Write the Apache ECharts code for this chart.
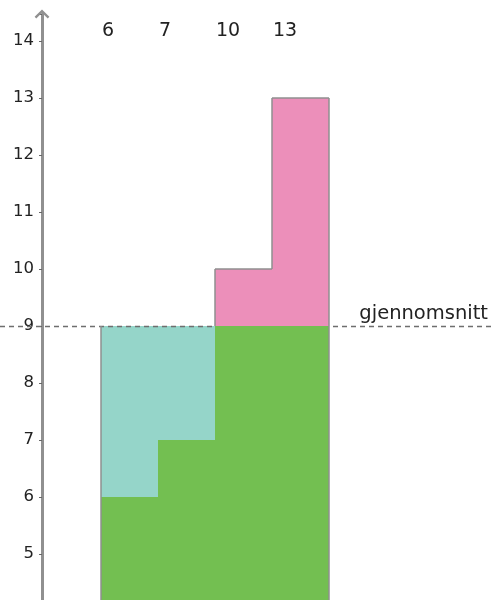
<!DOCTYPE html>
<html>
<head>
<meta charset="utf-8">
<script src="https://cdn.jsdelivr.net/npm/echarts@6/dist/echarts.min.js"></script>
<style>html,body{margin:0;padding:0;background:#fff;}#c{width:491px;height:600px;}</style>
</head>
<body>
<div id="c"></div>
<script>
// ---- data ----
const values = [6, 7, 10, 13];
const meanLabel = 'gjennomsnitt';
const yTickInterval = 1;
const mean = values.reduce((a, b) => a + b, 0) / values.length; // 9

// ---- layout constants ----
const X_MAX = 449 / 57;          // x=0 sits on the y axis (grid left edge)
const X_CANVAS_LEFT = -42 / 57;  // canvas left edge in x units
const BAR_OFFSET = 59 / 57;      // first bar start in x units
const Y_MIN = 4, Y_MAX = 14.474;
const FONT = 'DejaVu Sans';
const GREEN = '#73bf51', TEAL = '#95d5c9', PINK = '#ec8fba', OUTLINE = '#8f8f8f';

const chart = echarts.init(document.getElementById('c'), null, {renderer: 'canvas'});
const data = values.map((v, i) => [i, v]);

function rectShape(api, xa, xb, ya, yb) {
  const p1 = api.coord([xa, yb]);
  const p2 = api.coord([xb, ya]);
  const x = Math.round(p1[0]), y = Math.round(p1[1]);
  return {x: x, y: y, width: Math.round(p2[0]) - x, height: Math.round(p2[1]) - y};
}

function tealItem(params, api) {
  const i = api.value(0), v = api.value(1);
  const x0 = BAR_OFFSET + i;
  if (v >= mean) return {type: 'group', children: []};
  return {type: 'rect', shape: rectShape(api, x0, x0 + 1, v, mean), style: {fill: TEAL}};
}

function meanItem(params, api) {
  const m = api.value(1);
  const a = api.coord([X_CANVAS_LEFT, m]);
  const b = api.coord([X_MAX, m]);
  const y = Math.round(a[1]) + 0.5;
  return {type: 'group', children: [
    {type: 'line', shape: {x1: a[0], y1: y, x2: b[0], y2: y}, style: {stroke: '#6e6e6e', lineWidth: 1.5, lineDash: [5, 4]}},
    {type: 'text', style: {x: b[0] - 3, y: y - 13, text: meanLabel, fill: '#222', font: '19.5px "' + FONT + '"', textAlign: 'right', textVerticalAlign: 'middle'}}
  ]};
}

function fillItem(params, api) {
  const i = api.value(0), v = api.value(1);
  const x0 = BAR_OFFSET + i;
  const children = [];
  children.push({type: 'rect', shape: rectShape(api, x0, x0 + 1, Y_MIN, Math.min(v, mean)), style: {fill: GREEN}});
  if (v > mean) {
    children.push({type: 'rect', shape: rectShape(api, x0, x0 + 1, mean, v), style: {fill: PINK}});
  }
  const px = api.coord([x0, Y_MAX])[0];
  children.push({type: 'text', style: {x: px + 1, y: 31, text: String(v), fill: '#222', font: '19px "' + FONT + '"', textAlign: 'left', textVerticalAlign: 'middle'}});
  return {type: 'group', children};
}

function outlineItem(params, api) {
  const i = api.value(0), v = api.value(1);
  const n = values.length;
  const x0 = BAR_OFFSET + i, x1 = x0 + 1;
  const top = Math.max(v, mean);
  const lines = [];
  const seg = (a, b) => lines.push({type: 'line', shape: {x1: Math.round(a[0]), y1: Math.round(a[1]), x2: Math.round(b[0]), y2: Math.round(b[1])}, style: {stroke: OUTLINE, lineWidth: 1.5}});
  if (i === 0) {
    seg(api.coord([x0, Y_MIN]), api.coord([x0, top]));
  } else {
    const prevTop = Math.max(values[i - 1], mean);
    if (top > prevTop) seg(api.coord([x0, prevTop]), api.coord([x0, top]));
  }
  if (v > mean) seg(api.coord([x0, v]), api.coord([x1, v]));
  if (i === n - 1) {
    seg(api.coord([x1, top]), api.coord([x1, Y_MIN]));
  } else {
    const nextTop = Math.max(values[i + 1], mean);
    if (top > nextTop) seg(api.coord([x1, top]), api.coord([x1, nextTop]));
  }
  return {type: 'group', children: lines};
}

chart.setOption({
  animation: false,
  grid: {left: 42, right: 0, top: 14, bottom: -11, containLabel: false, outerBoundsMode: 'none'},
  xAxis: {type: 'value', min: 0, max: X_MAX, show: false},
  yAxis: {
    type: 'value', min: Y_MIN, max: Y_MAX, interval: yTickInterval,
    axisLine: {show: true, onZero: false, lineStyle: {color: '#909090', width: 3},
      symbol: ['none', 'path://M0,9 L9,0 L18,9 L16,11 L9,4 L2,11 Z'], symbolSize: [15, 9]},
    axisTick: {show: true, length: 3, lineStyle: {color: '#666', width: 1}},
    splitLine: {show: false},
    axisLabel: {margin: 8, fontSize: 16.5, color: '#222', fontFamily: FONT,
      formatter: v => Number.isInteger(v) ? String(v) : ''}
  },
  series: [
    {type: 'custom', z: 1, renderItem: tealItem, data: data, encode: {x: 0, y: 1}, silent: true},
    {type: 'custom', z: 2, renderItem: meanItem, data: [[0, mean]], encode: {x: 0, y: 1}, silent: true},
    {type: 'custom', z: 3, renderItem: fillItem, data: data, encode: {x: 0, y: 1}, silent: true},
    {type: 'custom', z: 4, renderItem: outlineItem, data: data, encode: {x: 0, y: 1}, silent: true}
  ]
});
</script>
</body>
</html>
